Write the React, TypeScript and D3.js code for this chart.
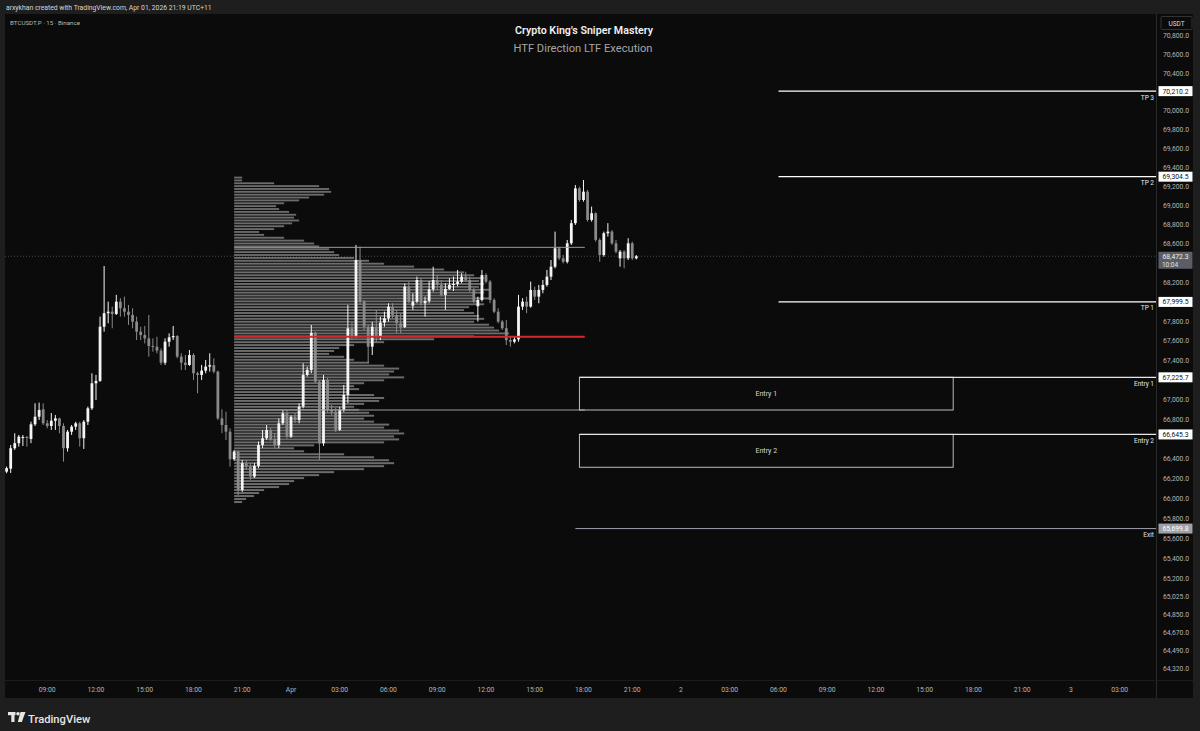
import React from 'react';
import * as d3 from 'd3';

// ---------- DATA ----------
const firstBarUtc = Date.UTC(2026, 2, 31, 6, 30); // first 15m bar, Mar 31 06:30
const barMinutes = 15;

const candleOpen = [
  66270, 66300, 66506, 66557, 66610, 66620, 66600, 66748, 66825, 66900,
  66758, 66731, 66784, 66808, 66731, 66506, 66673, 66724, 66758, 66607,
  66774, 66910, 67165, 67189, 67744, 67883, 67899, 67875, 68002, 67934,
  67899, 67865, 67796, 67693, 67658, 67624, 67546, 67539, 67498, 67375,
  67590, 67635, 67648, 67437, 67375, 67352, 67454, 67267, 67250, 67294,
  67335, 67350, 67284, 66808, 66741, 66673, 66395, 66472, 66086, 66355,
  66321, 66220, 66328, 66539, 66607, 66691, 66600, 66539, 66758, 66859,
  66623, 66825, 66791, 66927, 67250, 67301, 67682, 67182, 66556, 67199,
  66893, 66876, 66691, 66893, 67046, 67728, 67641, 68433, 68002, 67744,
  67539, 67744, 67641, 67786, 67831, 67951, 67865, 67779, 67740, 68157,
  67960, 68002, 68226, 67986, 68010, 68129, 68226, 68175, 68072, 68134,
  68175, 68185, 68209, 68261, 68226, 68123, 67955, 68020, 68278, 68209,
  68020, 67899, 67796, 67728, 67607, 67590, 67614, 67951, 68002, 67951,
  68123, 68054, 68123, 68175, 68261, 68364, 68555, 68451, 68415, 68607,
  68817, 69182, 69060, 69147, 68851, 68921, 68642, 68485, 68712, 68729,
  68607, 68451, 68520, 68451, 68607, 68451,
];
const candleHigh = [
  66321, 66539, 66657, 66640, 66640, 66630, 66774, 66961, 66968, 66961,
  66791, 66862, 66842, 66815, 66758, 66691, 66741, 66774, 66774, 66791,
  66927, 67267, 67250, 67848, 68371, 68002, 67951, 68072, 68038, 68054,
  67968, 67934, 67848, 67744, 67751, 67865, 67624, 67641, 67522, 67624,
  67676, 67751, 67658, 67471, 67454, 67505, 67471, 67284, 67352, 67403,
  67471, 67420, 67295, 66900, 66876, 66708, 66489, 66480, 66388, 66388,
  66358, 66358, 66573, 66691, 66741, 66711, 66660, 66808, 66893, 66893,
  66840, 66862, 66961, 67369, 67335, 67762, 67693, 67199, 67250, 67219,
  66944, 66913, 66924, 67148, 67968, 67793, 68590, 68572, 68020, 67762,
  67793, 67917, 67848, 67899, 67986, 67986, 67917, 67883, 68190, 68209,
  68089, 68261, 68245, 68054, 68215, 68364, 68278, 68226, 68192, 68244,
  68261, 68330, 68296, 68312, 68261, 68144, 68054, 68330, 68296, 68226,
  68038, 67934, 67813, 67813, 67641, 67641, 68072, 68038, 68054, 68209,
  68157, 68175, 68226, 68330, 68433, 68729, 68570, 68485, 68642, 68851,
  69217, 69199, 69269, 69165, 68990, 68930, 68660, 68729, 68817, 68746,
  68642, 68537, 68537, 68660, 68624, 68485,
];
const candleLow = [
  66254, 66257, 66489, 66522, 66529, 66522, 66557, 66731, 66791, 66741,
  66708, 66691, 66691, 66657, 66371, 66472, 66640, 66691, 66522, 66499,
  66741, 66893, 66995, 67179, 67693, 67779, 67728, 67865, 67848, 67848,
  67762, 67728, 67607, 67607, 67573, 67437, 67488, 67471, 67352, 67352,
  67539, 67607, 67420, 67301, 67301, 67342, 67199, 67063, 67199, 67267,
  67284, 67267, 66791, 66657, 66590, 66321, 66381, 66035, 66066, 66287,
  66187, 66207, 66305, 66509, 66590, 66580, 66505, 66506, 66741, 66600,
  66610, 66761, 66758, 66910, 67233, 67267, 67165, 66388, 66529, 66872,
  66842, 66670, 66680, 66872, 66964, 67607, 67627, 67968, 67710, 67372,
  67454, 67590, 67607, 67744, 67796, 67834, 67676, 67676, 67730, 67986,
  67917, 67986, 67958, 67848, 67986, 68106, 68123, 68054, 67917, 68123,
  68113, 68160, 68192, 68209, 68103, 67986, 67796, 68002, 68192, 67986,
  67883, 67779, 67710, 67556, 67539, 67573, 67590, 67917, 67883, 67940,
  68020, 67986, 68089, 68157, 68226, 68347, 68433, 68398, 68398, 68590,
  68799, 69042, 69042, 68833, 68833, 68624, 68415, 68468, 68677, 68590,
  68503, 68364, 68347, 68433, 68433, 68440,
];
const candleClose = [
  66305, 66506, 66557, 66623, 66620, 66610, 66748, 66825, 66893, 66758,
  66731, 66784, 66808, 66731, 66506, 66673, 66724, 66758, 66607, 66774,
  66910, 67165, 67189, 67744, 67883, 67899, 67875, 68002, 67934, 67899,
  67865, 67796, 67693, 67658, 67624, 67546, 67539, 67498, 67375, 67590,
  67635, 67648, 67437, 67375, 67352, 67454, 67267, 67250, 67294, 67335,
  67350, 67284, 66808, 66741, 66673, 66395, 66472, 66086, 66355, 66321,
  66220, 66328, 66539, 66607, 66691, 66590, 66539, 66758, 66859, 66623,
  66825, 66791, 66927, 67250, 67301, 67682, 67182, 66556, 67199, 66893,
  66876, 66691, 66893, 67046, 67728, 67641, 68433, 68002, 67744, 67539,
  67744, 67641, 67786, 67831, 67951, 67865, 67779, 67740, 68157, 68002,
  68002, 68226, 67986, 68010, 68129, 68226, 68175, 68072, 68134, 68175,
  68185, 68209, 68261, 68226, 68123, 68002, 68020, 68278, 68209, 68020,
  67899, 67796, 67728, 67607, 67590, 67614, 67951, 68002, 67951, 68123,
  68054, 68123, 68175, 68261, 68364, 68555, 68451, 68415, 68607, 68817,
  69182, 69060, 69147, 68851, 68921, 68642, 68485, 68712, 68729, 68607,
  68520, 68520, 68451, 68607, 68451, 68472.3,
];

// Volume profile: rows from the top price down, one row per price step
const profileTopPrice = 69290;
const profileStepPrice = 30;
const profileVolume = [
  8, 8, 40, 85, 95, 97, 90, 75, 65, 50,
  42, 45, 55, 62, 60, 65, 58, 50, 40, 25,
  30, 50, 70, 80, 85, 95, 100, 105, 120, 135,
  150, 180, 210, 230, 240, 250, 245, 250, 245, 255,
  250, 240, 255, 245, 250, 235, 230, 240, 245, 250,
  240, 255, 260, 265, 275, 240, 200, 150, 120, 105,
  100, 95, 110, 120, 135, 150, 165, 160, 155, 170,
  150, 130, 120, 125, 115, 140, 150, 145, 130, 120,
  125, 135, 140, 130, 140, 155, 150, 165, 170, 160,
  165, 150, 80, 60, 70, 110, 140, 155, 160, 150,
  130, 100, 85, 70, 60, 55, 45, 30, 25, 20,
  12, 8,
];
const valueAreaHigh = 68565;
const pointOfControl = 67642;
const valueAreaLow = 66893;

const priceTicks = [
  70800, 70600, 70400, 70000, 69800, 69600, 69400, 69200, 69000, 68800,
  68600, 68200, 67800, 67600, 67400, 67000, 66800, 66400, 66200, 66000,
  65800, 65600, 65400, 65200, 65025, 64850, 64670, 64490, 64320,
];

const tpNames = ['TP 3', 'TP 2', 'TP 1'];
const tpPrices = [70210.2, 69304.5, 67999.5];
const entryNames = ['Entry 1', 'Entry 2'];
const entryPrices = [67225.7, 66645.3];
const entryBoxBottoms = [66893, 66314];
const exitName = 'Exit';
const exitPrice = 65699.8;
const lastPrice = 68472.3;
const countdown = '10:04';

// ---------- LAYOUT ----------
const W = 1200;
const H = 731;
const plotL = 5;
const plotR = 1156;
const plotT = 14;
const plotB = 680;
const axisR = 1193;
const FONT = "Roboto, 'DejaVu Sans', sans-serif";

const HOUR = 3600e3;
const apr1 = Date.UTC(2026, 3, 1);
const tAt = (h: number) => new Date(apr1 + h * HOUR);

const x = d3.scaleUtc().domain([tAt(-17.6), tAt(53.2308)]).range([plotL, plotR]);
const y = d3.scaleLog().domain([64207, 71037]).range([plotB, plotT]);

const barTime = (i: number) => new Date(firstBarUtc + i * barMinutes * 60e3);
const fmtPrice = d3.format(',.1f');

const profileStart = tAt(-3.5);
const profileEnd = tAt(18.08);
const entryBoxStart = tAt(17.75);
const entryBoxEnd = tAt(40.75);
const tpStart = tAt(30);
const exitStart = tAt(17.5);

function PriceTag({ p, bg, fg, text }: { p: number; bg: string; fg: string; text?: string }) {
  const yy = y(p);
  return (
    <g>
      <rect x={1158.5} y={yy - 5} width={34} height={10} fill={bg} />
      <text x={1175.5} y={yy + 2.4} fill={fg} fontSize={6.8} textAnchor="middle" fontFamily={FONT}>
        {text ?? fmtPrice(p)}
      </text>
    </g>
  );
}

export default function App() {
  const wScale = d3.scaleLinear().domain([0, d3.max(profileVolume) as number]).range([0, 275]);
  const xProfile = x(profileStart);

  const timeTicks = d3.utcHour.every(3)!.range(tAt(-15), tAt(51.5));
  const tickLabel = (d: Date) => {
    if (d.getUTCHours() === 0) {
      return d.getUTCDate() === 1 ? 'Apr' : String(d.getUTCDate());
    }
    return d3.utcFormat('%H:%M')(d);
  };

  return (
    <div style={{ position: 'fixed', left: 0, top: 0, width: W, height: H }}>
      <svg width={W} height={H} style={{ display: 'block' }}>
        {/* frame */}
        <rect x={0} y={0} width={W} height={H} fill="#1e1e1e" />
        <rect x={plotL} y={plotT} width={axisR - plotL} height={698 - plotT} fill="#0b0b0b" />
        <line x1={plotR + 0.5} x2={plotR + 0.5} y1={plotT} y2={698} stroke="#2a2a2a" />
        <line x1={plotL} x2={axisR} y1={plotB + 0.5} y2={plotB + 0.5} stroke="#1c1c1c" />

        {/* header */}
        <text x={6} y={9.5} fill="#d6d6d6" fontSize={6.8} fontFamily={FONT}>
          arxykhan created with TradingView.com, Apr 01, 2026 21:19 UTC+11
        </text>
        <text x={10} y={25} fill="#b8b8b8" fontSize={6.2} fontFamily={FONT}>
          BTCUSDT.P · 15 · Binance
        </text>
        <text x={584} y={33.5} fill="#f0f0f0" fontSize={10.5} fontWeight={600} textAnchor="middle"
          fontFamily={FONT} textLength={138} lengthAdjust="spacingAndGlyphs">
          Crypto King's Sniper Mastery
        </text>
        <text x={583} y={52} fill="#a6a6a6" fontSize={10.5} textAnchor="middle"
          fontFamily={FONT} textLength={139} lengthAdjust="spacingAndGlyphs">
          HTF Direction LTF Execution
        </text>

        {/* volume profile */}
        {profileVolume.map((v, k) => {
          const p = profileTopPrice - k * profileStepPrice;
          const y0 = y(p + profileStepPrice / 2);
          const y1 = y(p - profileStepPrice / 2);
          return (
            <rect key={'vp' + k} x={xProfile} y={y0} width={wScale(v)} height={Math.max(0.8, y1 - y0 - 1)}
              fill="#6c6c6c" />
          );
        })}

        {/* last price dotted line */}
        <line x1={plotL} x2={plotR} y1={y(lastPrice)} y2={y(lastPrice)} stroke="#4a4a4a" strokeDasharray="1,2" />

        {/* candles */}
        {candleOpen.map((o, i) => {
          const c = candleClose[i];
          const hi = candleHigh[i];
          const lo = candleLow[i];
          const cx = x(barTime(i));
          const up = c >= o;
          const col = up ? '#f5f5f5' : '#8a8a8a';
          const yTop = y(Math.max(o, c));
          const yBot = y(Math.min(o, c));
          return (
            <g key={'c' + i}>
              <line x1={cx} x2={cx} y1={y(hi)} y2={y(lo)} stroke={col} strokeWidth={1} />
              <rect x={cx - 1.4} y={yTop} width={2.8} height={Math.max(1, yBot - yTop)} fill={col} />
            </g>
          );
        })}

        {/* value area lines and POC */}
        <line x1={xProfile} x2={x(profileEnd)} y1={y(valueAreaHigh)} y2={y(valueAreaHigh)} stroke="#9a9a9a" strokeWidth={1} />
        <line x1={xProfile} x2={x(profileEnd)} y1={y(valueAreaLow)} y2={y(valueAreaLow)} stroke="#9a9a9a" strokeWidth={1} />
        <line x1={xProfile} x2={x(profileEnd)} y1={y(pointOfControl)} y2={y(pointOfControl)} stroke="#d42a2a" strokeWidth={2} />

        {/* TP lines */}
        {tpPrices.map((p, i) => (
          <g key={'tp' + i}>
            <line x1={x(tpStart)} x2={plotR} y1={y(p)} y2={y(p)} stroke="#ffffff" strokeWidth={1.3} />
            <text x={1154} y={y(p) + 8.5} fill="#e8e8e8" fontSize={6.5} textAnchor="end" fontFamily={FONT}>{tpNames[i]}</text>
          </g>
        ))}

        {/* entry boxes */}
        {entryPrices.map((p, i) => {
          const xa = x(entryBoxStart);
          const xb = x(entryBoxEnd);
          const ya = y(p);
          const yb = y(entryBoxBottoms[i]);
          return (
            <g key={'en' + i}>
              <rect x={xa} y={ya} width={xb - xa} height={yb - ya} fill="none" stroke="#bdbdbd" strokeWidth={1} />
              <line x1={xa} x2={plotR} y1={ya} y2={ya} stroke="#e6e6e6" strokeWidth={1.2} />
              <text x={(xa + xb) / 2} y={(ya + yb) / 2 + 2.5} fill="#d8d8d8" fontSize={7} textAnchor="middle" fontFamily={FONT}>{entryNames[i]}</text>
              <text x={1154} y={ya + 8.5} fill="#e8e8e8" fontSize={6.5} textAnchor="end" fontFamily={FONT}>{entryNames[i]}</text>
            </g>
          );
        })}

        {/* exit line */}
        <line x1={x(exitStart)} x2={plotR} y1={y(exitPrice)} y2={y(exitPrice)} stroke="#9ea1aa" strokeWidth={1} />
        <text x={1154} y={y(exitPrice) + 8.5} fill="#e0e0e0" fontSize={6.5} textAnchor="end" fontFamily={FONT}>{exitName}</text>

        {/* price axis */}
        <rect x={1161} y={16.5} width={31} height={13} fill="none" stroke="#333" rx={1} />
        <text x={1176.5} y={25.5} fill="#dcdcdc" fontSize={6.5} textAnchor="middle" fontFamily={FONT}>USDT</text>
        {priceTicks.map((p) => (
          <text key={'pt' + p} x={1176} y={y(p) + 2.4} fill="#b4b4b4" fontSize={6.8} textAnchor="middle" fontFamily={FONT}>
            {fmtPrice(p)}
          </text>
        ))}
        {tpPrices.map((p) => <PriceTag key={'tpt' + p} p={p} bg="#ffffff" fg="#111" />)}
        {entryPrices.map((p) => <PriceTag key={'ent' + p} p={p} bg="#ffffff" fg="#111" />)}
        <PriceTag p={exitPrice} bg="#9ea1aa" fg="#ffffff" />
        <g>
          <rect x={1158.5} y={y(lastPrice) - 4.5} width={34} height={17} fill="#5c5e66" />
          <text x={1175.5} y={y(lastPrice) + 2.6} fill="#f0f0f0" fontSize={6.8} textAnchor="middle" fontFamily={FONT}>{fmtPrice(lastPrice)}</text>
          <text x={1170} y={y(lastPrice) + 10.4} fill="#e0e0e0" fontSize={6.5} textAnchor="middle" fontFamily={FONT}>{countdown}</text>
        </g>

        {/* time axis */}
        {timeTicks.map((d) => (
          <text key={'tt' + d.getTime()} x={x(d)} y={691.5} fill="#b4b4b4" fontSize={6.8} textAnchor="middle" fontFamily={FONT}>
            {tickLabel(d)}
          </text>
        ))}

        {/* footer logo */}
        <g fill="#e6e6e6">
          <rect x={8} y={712} width={7.5} height={3.2} />
          <rect x={11.3} y={712} width={3.2} height={10} />
          <circle cx={18} cy={713.8} r={1.8} />
          <path d="M20.5 712 L25.5 712 L21.8 722 L17.8 722 Z" />
        </g>
        <text x={28} y={723} fill="#e6e6e6" fontSize={11.2} fontWeight={500} fontFamily={FONT}>TradingView</text>
      </svg>
    </div>
  );
}
